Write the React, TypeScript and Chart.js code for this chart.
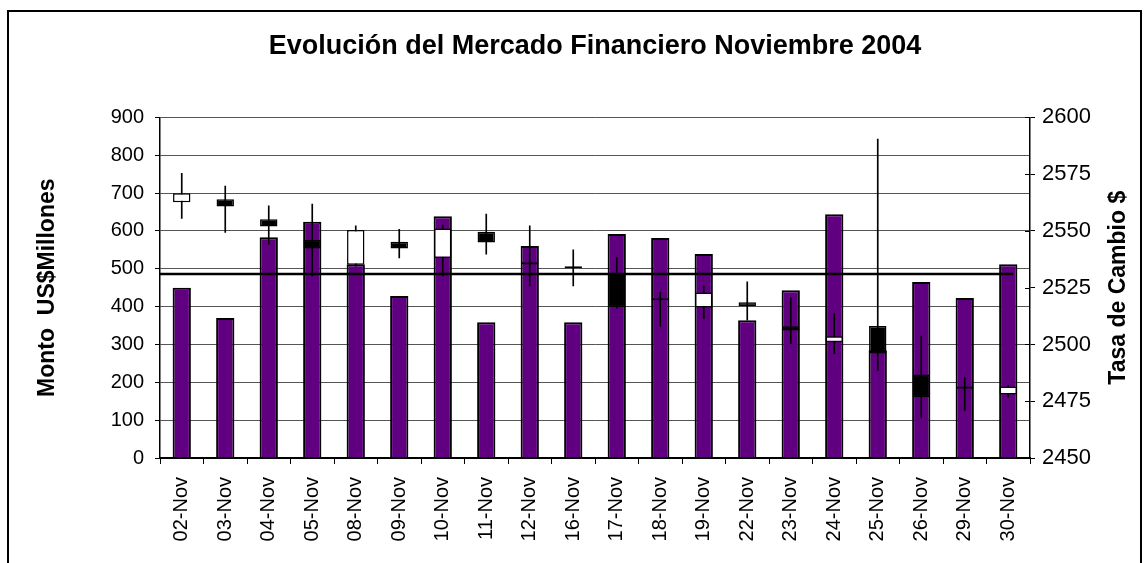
import React, { useEffect, useRef } from 'react';
import { Chart, registerables } from 'chart.js';

Chart.register(...registerables);

const fechas = ['02-Nov', '03-Nov', '04-Nov', '05-Nov', '08-Nov', '09-Nov', '10-Nov', '11-Nov', '12-Nov', '16-Nov',
  '17-Nov', '18-Nov', '19-Nov', '22-Nov', '23-Nov', '24-Nov', '25-Nov', '26-Nov', '29-Nov', '30-Nov'];
const montos = [450, 370, 583, 624, 512, 428, 639, 359, 560, 359, 592, 581, 539, 364, 443, 644, 285, 465, 423, 512];
const apertura = [2562.6, 2563.9, 2555.1, 2546.0, 2535.1, 2545.2, 2538.1, 2549.6, 2536.2, 2533.6,
  2531.3, 2519.5, 2516.3, 2518.6, 2508.0, 2501.0, 2508.1, 2486.8, 2481.5, 2478.0];
const maximo = [2575.4, 2569.8, 2561.1, 2561.8, 2552.3, 2550.7, 2552.6, 2557.4, 2552.3, 2541.7,
  2538.1, 2523.1, 2525.8, 2527.6, 2520.5, 2513.6, 2590.4, 2503.7, 2485.4, 2482.0];
const minimo = [2555.5, 2549.4, 2544.2, 2530.2, 2534.5, 2538.1, 2530.2, 2539.8, 2525.8, 2525.8,
  2516.0, 2508.0, 2511.4, 2510.7, 2500.4, 2496.0, 2488.6, 2467.7, 2471.0, 2476.8];
const cierre = [2566.6, 2560.8, 2552.0, 2542.3, 2550.4, 2542.3, 2551.1, 2544.9, 2535.2, 2533.6,
  2516.5, 2519.5, 2522.9, 2516.8, 2506.2, 2503.6, 2496.0, 2476.8, 2480.5, 2481.5];
const promedioMonto = 486;
const tituloDerecho = 'Tasa de Cambio $';

const FONT = "'Liberation Sans', Arial, sans-serif";

const lineaPromedio = {
  id: 'lineaPromedio',
  afterDatasetsDraw(chart: any) {
    const ctx = chart.ctx;
    const y = chart.scales.y.getPixelForValue(promedioMonto);
    const x0 = chart.chartArea.left;
    const x1 = chart.scales.x.getPixelForValue(fechas.length - 1) + 5;
    ctx.save();
    ctx.strokeStyle = '#000';
    ctx.lineWidth = 2.5;
    ctx.beginPath();
    ctx.moveTo(x0, y);
    ctx.lineTo(x1, y);
    ctx.stroke();
    ctx.restore();
  },
};

const ejeDerecho = {
  id: 'ejeDerecho',
  afterDraw(chart: any) {
    const s = chart.scales.y1;
    const ctx = chart.ctx;
    ctx.save();
    ctx.strokeStyle = '#000';
    ctx.lineWidth = 1;
    s.ticks.forEach((t: any) => {
      const y = Math.round(s.getPixelForValue(t.value)) + 0.5;
      ctx.beginPath();
      ctx.moveTo(s.left - 5, y);
      ctx.lineTo(s.left, y);
      ctx.stroke();
    });
    const size = 23;
    ctx.font = `bold ${size}px ${FONT}`;
    ctx.fillStyle = '#000';
    ctx.textAlign = 'center';
    ctx.textBaseline = 'middle';
    ctx.translate(s.right - size * 0.6, (chart.chartArea.top + chart.chartArea.bottom) / 2);
    ctx.rotate(-Math.PI / 2);
    ctx.fillText(tituloDerecho, 0, 0);
    ctx.restore();
  },
};

export default function App() {
  const ref = useRef<HTMLCanvasElement>(null);

  useEffect(() => {
    if (!ref.current) return;
    Chart.defaults.font.family = FONT;
    Chart.defaults.color = '#000';
    const chart = new Chart(ref.current, {
      type: 'bar',
      data: {
        labels: fechas,
        datasets: [
          {
            label: 'Cuerpo',
            yAxisID: 'y1',
            data: fechas.map((_, i) => [apertura[i], cierre[i]]) as any,
            backgroundColor: fechas.map((_, i) => (cierre[i] > apertura[i] ? '#ffffff' : '#000000')),
            borderColor: '#000',
            borderWidth: 1.5,
            borderSkipped: false,
            barPercentage: 0.4,
            categoryPercentage: 1,
            grouped: false,
            minBarLength: 2,
            order: 1,
          } as any,
          {
            label: 'Rango',
            yAxisID: 'y1',
            data: fechas.map((_, i) => [minimo[i], maximo[i]]) as any,
            backgroundColor: '#000',
            borderWidth: 0,
            barThickness: 1,
            grouped: false,
            order: 2,
          } as any,
          {
            label: 'Monto',
            yAxisID: 'y',
            data: montos,
            backgroundColor: '#600080',
            borderColor: '#000',
            borderWidth: 2,
            barPercentage: 0.42,
            categoryPercentage: 1,
            grouped: false,
            order: 3,
          } as any,
        ],
      },
      options: {
        responsive: false,
        animation: false,
        layout: { padding: { left: 34, right: 16, top: 0, bottom: 0 } },
        plugins: {
          legend: { display: false },
          tooltip: { enabled: false },
          title: {
            display: true,
            text: 'Evolución del Mercado Financiero Noviembre 2004',
            fullSize: false,
            color: '#000',
            font: { size: 27, weight: 'bold', family: FONT },
            padding: { top: 30, bottom: 55 },
          },
        },
        scales: {
          x: {
            offset: true,
            grid: { offset: true, drawOnChartArea: false, drawTicks: true, tickLength: 6, color: '#000' },
            border: { color: '#000', width: 2 },
            ticks: { minRotation: 90, maxRotation: 90, autoSkip: false, padding: 13, color: '#000', font: { size: 20 } },
            afterFit: (s: any) => { s.height = 105; },
          },
          y: {
            position: 'left',
            min: 0,
            max: 900,
            ticks: { stepSize: 100, padding: 11, color: '#000', font: { size: 20 } },
            grid: { color: '#555', tickColor: '#000', tickLength: 5, lineWidth: 1 },
            border: { color: '#000', width: 1.5 },
            title: { display: true, text: 'Monto  US$Millones', color: '#000', font: { size: 23, weight: 'bold' }, padding: 0 },
            afterFit: (s: any) => { s.width = 126; },
          },
          y1: {
            position: 'right',
            min: 2450,
            max: 2600,
            ticks: { stepSize: 25, padding: 7, color: '#000', font: { size: 22 }, callback: (v: any) => String(v) },
            grid: { drawOnChartArea: false, tickColor: '#000', tickLength: 5 },
            border: { color: '#000', width: 1.5 },
            afterFit: (s: any) => { s.width = 102; },
          },
        },
      } as any,
      plugins: [lineaPromedio, ejeDerecho],
    });
    return () => chart.destroy();
  }, []);

  return (
    <div style={{ position: 'fixed', left: 0, top: 0, width: 1148, height: 563, overflow: 'hidden', background: '#fff' }}>
      <div style={{ position: 'absolute', left: 7, top: 10, width: 1131, height: 700, border: '2px solid #000' }} />
      <canvas ref={ref} width={1148} height={563} style={{ position: 'absolute', left: 0, top: 0, display: 'block' }} />
    </div>
  );
}
